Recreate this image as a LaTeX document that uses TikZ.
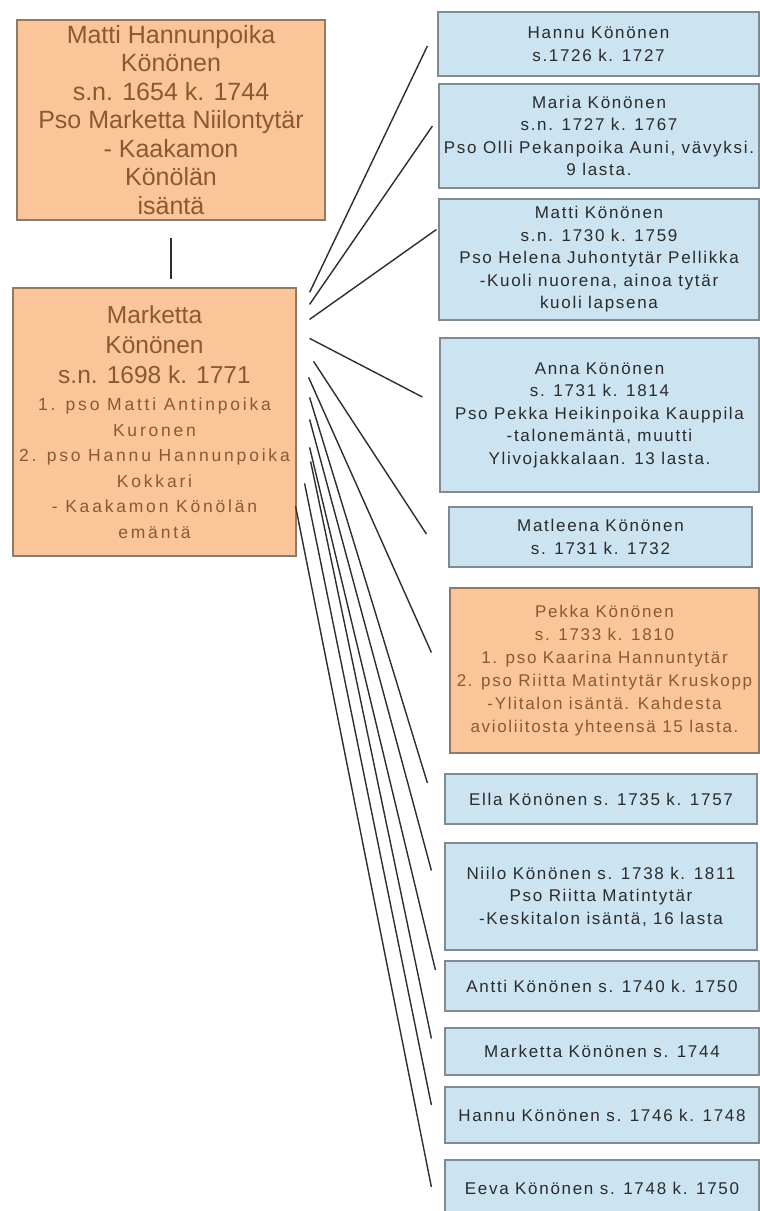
\documentclass[tikz,border=0pt]{standalone}
\usepackage{fontspec}
\setmainfont{Liberation Sans}
\newfontfamily\bigf{Liberation Sans}
\newfontfamily\smallf[LetterSpace=16]{Liberation Sans}
\newfontfamily\bluef[LetterSpace=10]{Liberation Sans}
\newcommand\smtxt{\smallf\fontsize{17.5}{26}\selectfont}
\definecolor{orangefill}{HTML}{FAC699}
\definecolor{orangeedge}{HTML}{8F7A66}
\definecolor{orangetext}{HTML}{8A5A2E}
\definecolor{bluefill}{HTML}{CCE3F2}
\definecolor{blueedge}{HTML}{7F8A92}
\definecolor{bluetext}{HTML}{2B2B2B}
\definecolor{linkcol}{HTML}{2E2E2E}
\begin{document}
\begin{tikzpicture}[x=1pt,y=-1pt,
  orangebox/.style={draw=orangeedge, fill=orangefill, line width=1.2pt, inner sep=0pt, align=center, text=orangetext},
  bluebox/.style={draw=blueedge, fill=bluefill, line width=1.2pt, inner sep=0pt, align=center, text=bluetext, font=\bluef\fontsize{17}{22.5}\selectfont},
  link/.style={draw=linkcol, line width=1.4pt}]
\useasboundingbox (0,0) rectangle (760,1211);
\clip (0,0) rectangle (760,1211);
\fill[white] (0,0) rectangle (760,1211);

\node[orangebox, minimum width=308pt, minimum height=200pt, font=\bigf\fontsize{25}{28.5}\selectfont] (top) at (171,120)
  {Matti Hannunpoika\\Könönen\\s.n. 1654 k. 1744\\Pso Marketta Niilontytär\\- Kaakamon\\Könölän\\isäntä};

\node[orangebox, minimum width=283pt, minimum height=268pt, font=\bigf\fontsize{24.5}{30}\selectfont] (mother) at (154.5,422)
  {Marketta\\Könönen\\s.n. 1698 k. 1771\\[-3pt]%
   \smtxt 1. pso Matti Antinpoika\\[-4.5pt]\smtxt Kuronen\\[-4.5pt]\smtxt 2. pso Hannu Hannunpoika\\[-4.5pt]\smtxt Kokkari\\[-4.5pt]\smtxt - Kaakamon Könölän\\[-4.5pt]\smtxt emäntä};

\node[bluebox, minimum width=321pt, minimum height=64pt] (c1) at (598.5,44)
  {Hannu Könönen\\s.1726 k. 1727};
\node[bluebox, minimum width=320pt, minimum height=104pt] (c2) at (599,136)
  {Maria Könönen\\s.n. 1727 k. 1767\\Pso Olli Pekanpoika Auni, vävyksi.\\9 lasta.};
\node[bluebox, minimum width=320pt, minimum height=121pt] (c3) at (599,259.5)
  {Matti Könönen\\s.n. 1730 k. 1759\\Pso Helena Juhontytär Pellikka\\-Kuoli nuorena, ainoa tytär\\kuoli lapsena};
\node[bluebox, minimum width=319pt, minimum height=154pt] (c4) at (599.5,415)
  {Anna Könönen\\s. 1731 k. 1814\\Pso Pekka Heikinpoika Kauppila\\-talonemäntä, muutti\\Ylivojakkalaan. 13 lasta.};
\node[bluebox, minimum width=303pt, minimum height=60pt] (c5) at (600.5,537)
  {Matleena Könönen\\s. 1731 k. 1732};
\node[orangebox, minimum width=309pt, minimum height=165pt, font=\bluef\fontsize{17}{23}\selectfont] (c6) at (604.5,670.5)
  {Pekka Könönen\\s. 1733 k. 1810\\1. pso Kaarina Hannuntytär\\2. pso Riitta Matintytär Kruskopp\\-Ylitalon isäntä. Kahdesta\\avioliitosta yhteensä 15 lasta.};
\node[bluebox, minimum width=312pt, minimum height=50pt] (c7) at (601,799)
  {Ella Könönen s. 1735 k. 1757};
\node[bluebox, minimum width=312pt, minimum height=107pt] (c8) at (601,896.5)
  {Niilo Könönen s. 1738 k. 1811\\Pso Riitta Matintytär\\-Keskitalon isäntä, 16 lasta};
\node[bluebox, minimum width=314pt, minimum height=50pt] (c9) at (602,986)
  {Antti Könönen s. 1740 k. 1750};
\node[bluebox, minimum width=314pt, minimum height=47pt] (c10) at (602,1051.5)
  {Marketta Könönen s. 1744};
\node[bluebox, minimum width=314pt, minimum height=56pt] (c11) at (602,1115)
  {Hannu Könönen s. 1746 k. 1748};
\node[bluebox, minimum width=314pt, minimum height=56pt] (c12) at (602,1188)
  {Eeva Könönen s. 1748 k. 1750};

\draw[link] ([yshift=-17pt]top.south) -- ([yshift=8pt]top.south |- mother.north);

\draw[link] ([shift={(13,5)}]mother.north east) -- ([shift={(-10,2)}]c1.west);
\draw[link] ([shift={(13,17)}]mother.north east) -- ([shift={(-6,-10)}]c2.west);
\draw[link] ([shift={(13,32)}]mother.north east) -- ([shift={(-2,-30)}]c3.west);
\draw[link] ([shift={(13,51)}]mother.north east) -- ([shift={(-17,-18)}]c4.west);
\draw[link] ([shift={(17,74)}]mother.north east) -- ([shift={(-22,-3)}]c5.west);
\draw[link] ([shift={(12,90)}]mother.north east) -- ([shift={(-18,-18)}]c6.west);
\draw[link] ([shift={(13,110)}]mother.north east) -- ([shift={(-17,-16)}]c7.west);
\draw[link] ([shift={(13,132)}]mother.north east) -- ([shift={(-13,-26)}]c8.west);
\draw[link] ([shift={(13,160)}]mother.north east) -- ([shift={(-9,-16)}]c9.west);
\draw[link] ([shift={(14,174)}]mother.north east) -- ([shift={(-13,-13)}]c10.west);
\draw[link] ([shift={(8,196)}]mother.north east) -- ([shift={(-13,-10)}]c11.west);
\draw[link] ([shift={(-1,219)}]mother.north east) -- ([shift={(-13,-1)}]c12.west);
\end{tikzpicture}
\end{document}
